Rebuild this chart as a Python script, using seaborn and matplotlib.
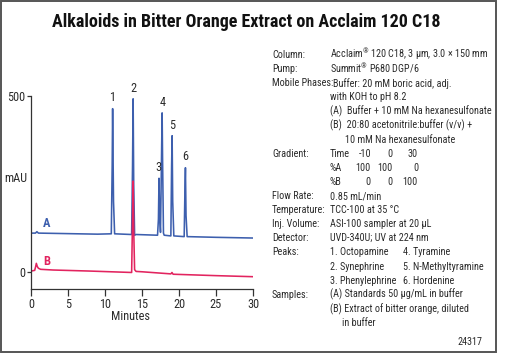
import matplotlib
matplotlib.use("Agg")
import matplotlib.pyplot as plt
import seaborn as sns
import pandas as pd
from matplotlib.patches import Rectangle

# ---- data ----
time_a = [0.0, 0.6, 0.8, 1.0, 9.0, 10.85, 10.97, 11.03, 11.15, 11.3, 13.6, 13.72, 13.8, 13.88, 14.0, 14.2,
          17.1, 17.22, 17.3, 17.38, 17.5, 17.62, 17.72, 17.78, 17.9, 18.0, 18.9, 19.0, 19.07, 19.15, 19.3,
          20.7, 20.8, 20.87, 20.95, 21.1, 25.0, 30.0]
sig_a = [110, 110, 114, 110, 107, 108, 300, 464, 200, 108, 106, 300, 492, 250, 104, 106,
         104, 150, 266, 160, 112, 300, 452, 320, 110, 104, 102, 300, 387, 200, 102,
         100, 230, 296, 160, 100, 98, 96]
time_b = [0.0, 0.5, 0.62, 0.72, 0.85, 1.0, 1.3, 3.0, 8.0, 13.6, 13.72, 13.8, 13.88, 14.0, 14.2, 15.0,
          18.9, 19.05, 19.2, 25.0, 30.0]
sig_b = [2, 4, 14, 24, 15, 10, 7, 5, 2, -2, 150, 258, 120, 6, 1, 0,
         -6, -2, -7, -11, -14]
peak_ids = ["1", "2", "3", "4", "5", "6"]
peak_times = [11.0, 13.8, 17.25, 17.75, 19.05, 20.85]
peak_heights = [464, 492, 266, 452, 387, 296]
x_ticks = [0, 5, 10, 15, 20, 25, 30]
y_ticks = [0, 500]

title = "Alkaloids in Bitter Orange Extract on Acclaim 120 C18"

sns.set_style("white")
plt.rcParams["font.family"] = ["Roboto Condensed", "Roboto", "DejaVu Sans"]

W, H = 520, 355
fig = plt.figure(figsize=(W / 100, H / 100), dpi=100)
TXT = "#2b2b2b"
BLUE = "#3d5fae"
PINK = "#e2245f"

# frame
fig.patches.append(Rectangle((1 / W, 3 / H), 495 / W, 351 / H, transform=fig.transFigure,
                             fill=False, edgecolor="#555555", linewidth=1.4))

ax = fig.add_axes([31 / W, (H - 289) / H, 222 / W, (289 - 96) / H])
ax.set_facecolor("none")
df_a = pd.DataFrame({"t": time_a, "s": sig_a})
df_b = pd.DataFrame({"t": time_b, "s": sig_b})
sns.lineplot(data=df_a, x="t", y="s", ax=ax, color=BLUE, linewidth=1.15, estimator=None, sort=False)
sns.lineplot(data=df_b, x="t", y="s", ax=ax, color=PINK, linewidth=1.15, estimator=None, sort=False)

ax.set_xlim(0, 30)
ax.set_ylim(-49, 500)
ax.set_xticks(x_ticks)
ax.set_yticks(y_ticks)
ax.set_xlabel("")
ax.set_ylabel("")
for s in ["top", "right"]:
    ax.spines[s].set_visible(False)
for s in ["left", "bottom"]:
    ax.spines[s].set_color("#333333")
    ax.spines[s].set_linewidth(0.9)
ax.tick_params(axis="x", direction="out", length=5, width=0.9, color="#333333",
               labelsize=8.8, labelcolor=TXT, pad=1.5, bottom=True)
ax.tick_params(axis="y", direction="out", length=3, width=0.9, color="#333333",
               labelsize=8.8, labelcolor=TXT, pad=1, left=True)

for pid, pt, ph in zip(peak_ids, peak_times, peak_heights):
    ax.text(pt, ph + 12, pid, ha="center", va="bottom", fontsize=8.8, color=TXT)
ax.text(2.1, 136, "A", ha="center", va="center", fontsize=9, color=BLUE, fontweight="bold")
ax.text(2.1, 28, "B", ha="center", va="center", fontsize=9, color=PINK, fontweight="bold")

fig.text(16 / W, 1 - 179 / H, "mAU", ha="center", va="center", fontsize=8.8, color=TXT)
fig.text(130 / W, 1 - 317 / H, "Minutes", ha="center", va="center", fontsize=8.8, color=TXT)

fig.text(246 / W, 1 - 22 / H, title, ha="center", va="center", fontsize=13,
         fontweight="bold", color="#111111")

# conditions block
x1, x2 = 272, 330
y0, dy = 55, 14.1
fs = 7.3
def put(x, row, s, ha="left"):
    fig.text(x / W, 1 - (y0 + row * dy) / H, s, ha=ha, va="center", fontsize=fs, color=TXT)

labels = {0: "Column:", 1: "Pump:", 2: "Mobile Phases:", 7: "Gradient:", 10: "Flow Rate:",
          11: "Temperature:", 12: "Inj. Volume:", 13: "Detector:", 14: "Peaks:", 17: "Samples:"}
for r, s in labels.items():
    put(x1, r, s)
put(x2, 0, r"Acclaim$^{\mathregular{®}}$ 120 C18, 3 µm, 3.0 × 150 mm")
put(x2, 1, r"Summit$^{\mathregular{®}}$ P680 DGP/6")
put(333, 2, "Buffer: 20 mM boric acid, adj.")
put(x2, 3, "with KOH to pH 8.2")
put(x2, 4, "(A)  Buffer + 10 mM Na hexanesulfonate")
put(x2, 5, "(B)  20:80 acetonitrile:buffer (v/v) +")
put(345, 6, "10 mM Na hexanesulfonate")
put(x2, 7, "Time")
put(x2, 8, "%A")
put(x2, 9, "%B")
for r, vals in zip([7, 8, 9], [["-10", "0", "30"], ["100", "100", "0"], ["0", "0", "100"]]):
    for xx, v in zip([371, 393, 418], vals):
        put(xx, r, v, ha="right")
put(x2, 10, "0.85 mL/min")
put(x2, 11, "TCC-100 at 35 °C")
put(x2, 12, "ASI-100 sampler at 20 µL")
put(x2, 13, "UVD-340U; UV at 224 nm")
put(x2, 14, "1. Octopamine")
put(x2, 15, "2. Synephrine")
put(x2, 16, "3. Phenylephrine")
put(403, 14, "4. Tyramine")
put(403, 15, "5. N-Methyltyramine")
put(403, 16, "6. Hordenine")
put(x2, 17, "(A) Standards 50 µg/mL in buffer")
put(x2, 18, "(B) Extract of bitter orange, diluted")
put(342, 19, "in buffer")
fig.text(482 / W, 1 - 342 / H, "24317", ha="right", va="center", fontsize=7.3, color=TXT)

fig.savefig("out.png", dpi=100)
